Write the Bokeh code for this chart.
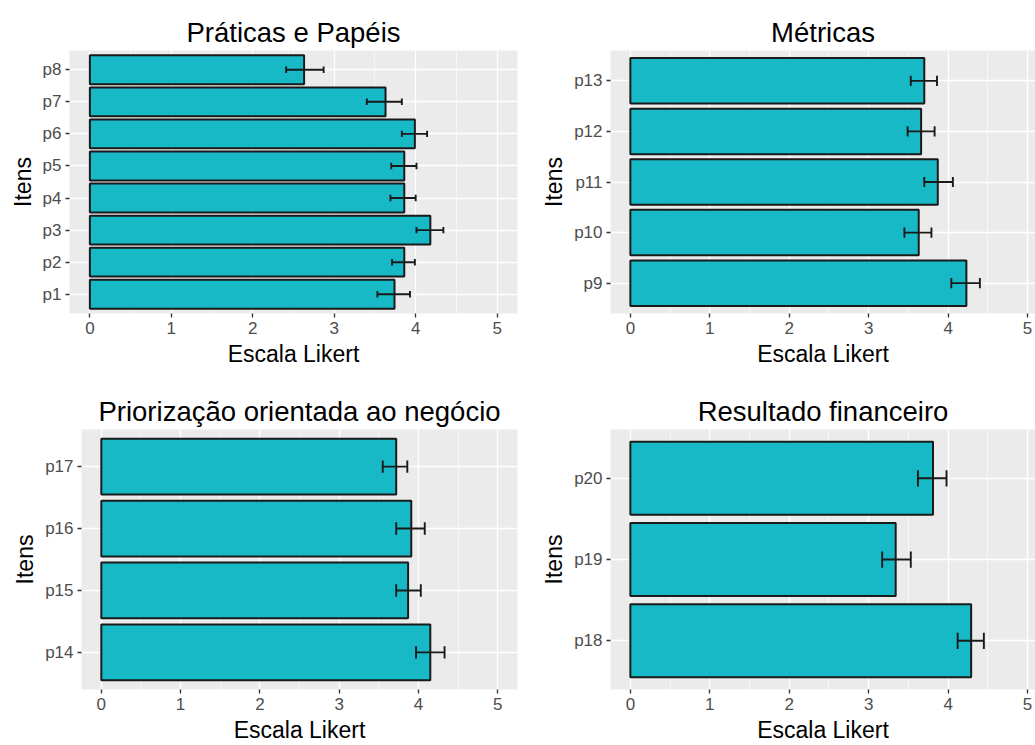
from bokeh.plotting import figure
from bokeh.layouts import column, row
from bokeh.models import Range1d, SingleIntervalTicker, FixedTicker
from bokeh.embed import file_html
from bokeh.resources import INLINE

# ---- data ----
title_1 = "Práticas e Papéis"
items_1 = ["p1", "p2", "p3", "p4", "p5", "p6", "p7", "p8"]
mean_1 = [3.74, 3.86, 4.18, 3.86, 3.86, 3.99, 3.63, 2.63]
lower_1 = [3.53, 3.71, 4.01, 3.69, 3.70, 3.83, 3.40, 2.41]
upper_1 = [3.93, 3.99, 4.34, 4.00, 4.01, 4.14, 3.83, 2.87]

title_2 = "Métricas"
items_2 = ["p9", "p10", "p11", "p12", "p13"]
mean_2 = [4.23, 3.63, 3.87, 3.66, 3.70]
lower_2 = [4.04, 3.45, 3.70, 3.49, 3.53]
upper_2 = [4.40, 3.79, 4.06, 3.83, 3.86]

title_3 = "Priorização orientada ao negócio"
items_3 = ["p14", "p15", "p16", "p17"]
mean_3 = [4.15, 3.87, 3.91, 3.72]
lower_3 = [3.97, 3.72, 3.72, 3.55]
upper_3 = [4.33, 4.03, 4.08, 3.86]

title_4 = "Resultado financeiro"
items_4 = ["p18", "p19", "p20"]
mean_4 = [4.29, 3.34, 3.81]
lower_4 = [4.12, 3.17, 3.62]
upper_4 = [4.45, 3.53, 3.98]

x_label = "Escala Likert"
y_label = "Itens"

FONT = "Liberation Sans"
BAR = "#17B9C6"
DARK = "#1a1a1a"


def panel(title, items, mean, lower, upper, width, height, bl, br, bt, bb, xmax, toff):
    n = len(items)
    ys = list(range(1, n + 1))
    p = figure(width=width, height=height, output_backend="svg", toolbar_location=None,
               x_range=Range1d(-0.25, xmax), y_range=Range1d(0.4, n + 0.6),
               min_border_left=bl, min_border_right=br, min_border_top=bt, min_border_bottom=bb)
    p.background_fill_color = "#EBEBEB"
    p.border_fill_color = "white"
    p.outline_line_color = None

    p.title.text = title
    p.title.align = "center"
    p.title.text_font = FONT
    p.title.text_font_size = "27.5px"
    p.title.text_font_style = "normal"
    p.title.text_color = "black"
    p.title.standoff = 6
    p.title.offset = toff

    p.hbar(y=ys, left=0, right=mean, height=0.9, fill_color=BAR, line_color=DARK, line_width=2)
    p.segment(x0=lower, y0=ys, x1=upper, y1=ys, line_color=DARK, line_width=1.9)
    cap_lo = [y - 0.1 for y in ys]
    cap_hi = [y + 0.1 for y in ys]
    p.segment(x0=lower, y0=cap_lo, x1=lower, y1=cap_hi, line_color=DARK, line_width=1.9)
    p.segment(x0=upper, y0=cap_lo, x1=upper, y1=cap_hi, line_color=DARK, line_width=1.9)

    p.xaxis.ticker = SingleIntervalTicker(interval=1, num_minor_ticks=2)
    p.yaxis.ticker = FixedTicker(ticks=ys)
    p.yaxis.major_label_overrides = {y: it for y, it in zip(ys, items)}

    p.xgrid.ticker = SingleIntervalTicker(interval=1, num_minor_ticks=2)
    p.xgrid.grid_line_color = "white"
    p.xgrid.grid_line_width = 1.3
    p.xgrid.minor_grid_line_color = "white"
    p.xgrid.minor_grid_line_width = 0.6
    p.ygrid.ticker = FixedTicker(ticks=ys)
    p.ygrid.grid_line_color = "white"
    p.ygrid.grid_line_width = 1.3

    for ax in (p.xaxis, p.yaxis):
        ax.axis_line_color = None
        ax.major_tick_line_color = "#333333"
        ax.major_tick_line_width = 1.3
        ax.major_tick_in = 0
        ax.major_tick_out = 4
        ax.minor_tick_line_color = None
        ax.major_label_text_font = FONT
        ax.major_label_text_font_size = "17px"
        ax.major_label_text_color = "#4D4D4D"
        ax.major_label_standoff = 4
        ax.axis_label_text_font = FONT
        ax.axis_label_text_font_size = "23px"
        ax.axis_label_text_font_style = "normal"
        ax.axis_label_text_color = "black"
        ax.axis_label_standoff = 4
    p.xaxis.axis_label = x_label
    p.yaxis.axis_label = y_label
    return p


p1 = panel(title_1, items_1, mean_1, lower_1, upper_1, 518, 370, 69, 1, 49, 56, 5.25, 0)
p2 = panel(title_2, items_2, mean_2, lower_2, upper_2, 517, 370, 92, 0, 50, 57, 5.10, 6)
p3 = panel(title_3, items_3, mean_3, lower_3, upper_3, 518, 375, 81, 1, 58, 53, 5.25, 0)
p4 = panel(title_4, items_4, mean_4, lower_4, upper_4, 517, 375, 92, 0, 59, 53, 5.10, 6)

layout = column(row(p1, p2), row(p3, p4))
open("out.html", "w").write(file_html(layout, INLINE))
